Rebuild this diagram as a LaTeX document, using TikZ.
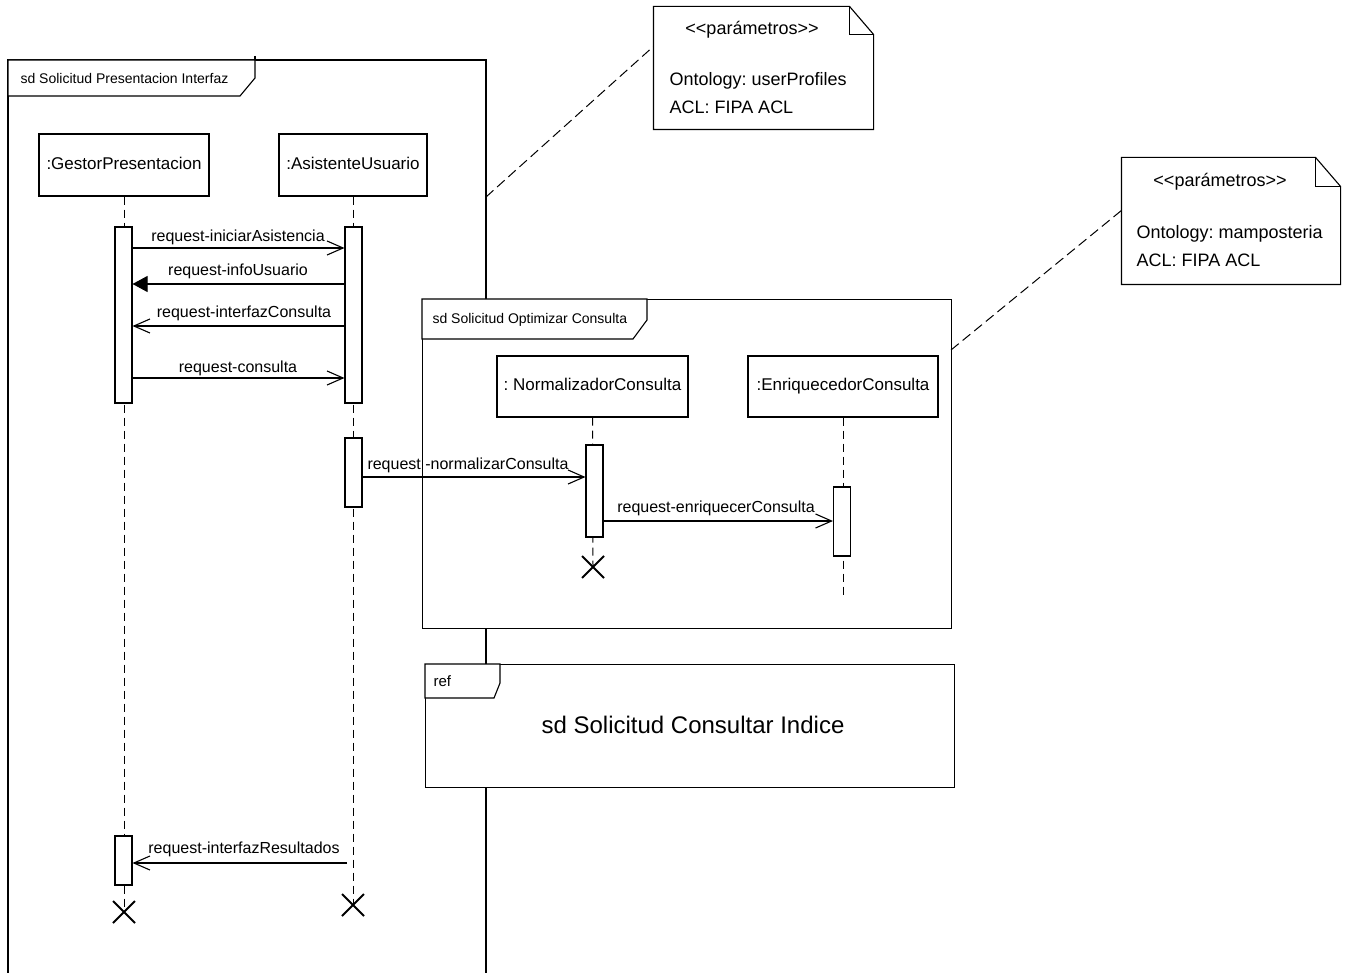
\documentclass[tikz,border=0pt]{standalone}
\usepackage{fontspec}
\setmainfont{Liberation Sans}
\usetikzlibrary{arrows.meta,shapes.misc}
\frenchspacing
\begin{document}
\begin{tikzpicture}[x=1pt,y=-1pt,line width=1.1pt,
  lifebox/.style={draw,fill=white,inner sep=0pt,text height=12pt,text depth=3.5pt,font=\fontsize{17}{20}\selectfont},
  actbar/.style={draw,fill=white,inner sep=0pt,minimum width=17pt},
  lifeline/.style={line width=1pt,dash pattern=on 8pt off 5pt},
  msgopen/.style={-{Straight Barb[length=16pt,width=14pt,line width=1.1pt]}},
  msgfill/.style={-{Triangle[length=15pt,width=16pt]}},
  msglbl/.style={inner sep=0pt,font=\fontsize{16}{18}\selectfont},
  framelbl/.style={inner sep=0pt,anchor=west,font=\fontsize{14}{16}\selectfont},
  notetxt/.style={inner sep=0pt,font=\fontsize{18}{21}\selectfont},
  destroy/.style={cross out,draw,minimum size=20pt,inner sep=0pt,line width=2pt},
  notelink/.style={line width=1pt,dash pattern=on 10pt off 5pt},
  notebox/.style={inner sep=0pt,draw=none}]
\useasboundingbox[fill=white] (0,0) rectangle (1348,973);

% outer frame
\coordinate (ofbl) at (8,973);
\coordinate (oftl) at (8,60);
\coordinate (oftr) at (486,60);
\coordinate (ofbr) at (486,973);
\draw (ofbl) -- (oftl) -- (oftr) -- (ofbr);
\draw[fill=white] (8,60) -- (255,60) -- (255,78) -- (240,96) -- (8,96) -- cycle;
\draw (255,56) -- (255,60);
\node[framelbl] (oflbl) at (20,78) {sd Solicitud Presentacion Interfaz};

% lifelines of outer diagram
\node[lifebox,minimum width=170pt,minimum height=62pt] (gp) at (124,165) {:GestorPresentacion};
\node[lifebox,minimum width=148pt,minimum height=62pt] (au) at (353,165) {:AsistenteUsuario};
\node[destroy] (x1) at (124,912) {};
\node[destroy] (x2) at (353,905) {};
\draw[lifeline] (gp.south) -- (x1.center);
\draw[lifeline] (au.south) -- (x2.center);

% notes links
\coordinate (ofnote) at (486,197);
\coordinate (n1link) at (655,45);
\draw[notelink] (ofnote) -- (n1link);

% inner frame
\node[draw,fill=white,minimum width=529pt,minimum height=329pt,inner sep=0pt,anchor=north west] (inf) at (422,299) {};
\draw[fill=white] (422,299) -- (647,299) -- (647,320) -- (633,339) -- (422,339) -- cycle;
\node[framelbl] (inflbl) at (432,320) {sd Solicitud Optimizar Consulta};

\node[lifebox,minimum width=191pt,minimum height=61pt] (nc) at (592.5,386.5) {: NormalizadorConsulta};
\node[lifebox,minimum width=190pt,minimum height=61pt] (ec) at (843,386.5) {:EnriquecedorConsulta};
\node[destroy] (x3) at (593,567) {};
\coordinate (ecend) at (843,595);
\draw[lifeline] (nc.south) -- (x3.center);
\draw[lifeline] (ec.south) -- (ecend);

% ref frame
\node[draw,fill=white,minimum width=529pt,minimum height=123pt,inner sep=0pt,anchor=north west] (ref) at (425,664) {};
\draw[fill=white] (425,664) -- (500,664) -- (500,683) -- (494,698) -- (425,698) -- cycle;
\node[framelbl,font=\fontsize{15}{17}\selectfont] (reflbl) at (433,681) {ref};
\node[inner sep=0pt,font=\fontsize{24}{28}\selectfont] (reftxt) at (693,725) {sd Solicitud Consultar Indice};

% activation bars
\node[actbar,minimum height=176pt] (gb1) at (123.5,315) {};
\node[actbar,minimum height=176pt] (ab1) at (353.5,315) {};
\node[actbar,minimum height=69pt] (ab2) at (353.5,472.5) {};
\node[actbar,minimum height=92pt] (nb) at (594.5,491) {};
\node[actbar,minimum height=69pt] (eb) at (842,521.5) {};
\node[actbar,minimum height=49pt] (gb2) at (123.5,860.5) {};

% messages
\draw[msgopen] (gb1.east |- 0,248) -- (ab1.west |- 0,248);
\node[msglbl] (l1) at (238,237) {request-iniciarAsistencia};
\draw[msgfill] (ab1.west |- 0,284) -- (gb1.east |- 0,284);
\node[msglbl] (l2) at (238,271) {request-infoUsuario};
\draw[msgopen] (ab1.west |- 0,326) -- (gb1.east |- 0,326);
\node[msglbl] (l3) at (244,313) {request-interfazConsulta};
\draw[msgopen] (gb1.east |- 0,378) -- (ab1.west |- 0,378);
\node[msglbl] (l4) at (238,368) {request-consulta};
\draw[msgopen] (ab2.east |- 0,477) -- (nb.west |- 0,477);
\node[msglbl] (l5) at (468,465) {request -normalizarConsulta};
\draw[msgopen] (nb.east |- 0,521) -- (eb.west |- 0,521);
\node[msglbl] (l6) at (716,508) {request-enriquecerConsulta};
\coordinate (m7s) at (347,863);
\draw[msgopen] (m7s) -- (gb2.east |- m7s);
\node[msglbl] (l7) at (244,849) {request-interfazResultados};

% note 1
\node[notebox,minimum width=219pt,minimum height=122pt] (n1) at (763.5,68) {};
\draw[fill=white] (n1.south west) -- (n1.north west) -- ([xshift=-24pt]n1.north east) -- ([yshift=-28pt]n1.north east) -- (n1.south east) -- cycle;
\draw ([xshift=-24pt]n1.north east) -- ([xshift=-24pt,yshift=-28pt]n1.north east) -- ([yshift=-28pt]n1.north east);
\node[notetxt] (n1a) at (752,30) {{<}{<}parámetros{>}{>}};
\node[notetxt,anchor=west] (n1b) at (669,81) {Ontology: userProfiles};
\node[notetxt,anchor=west] (n1c) at (669,107) {ACL: FIPA ACL};

% note 2
\coordinate (infnote) at (951,350);
\coordinate (n2link) at (1122,210);
\draw[notelink] (infnote) -- (n2link);
\node[notebox,minimum width=218pt,minimum height=126pt] (n2) at (1231,221) {};
\draw[fill=white] (n2.south west) -- (n2.north west) -- ([xshift=-25pt]n2.north east) -- ([yshift=-29pt]n2.north east) -- (n2.south east) -- cycle;
\draw ([xshift=-25pt]n2.north east) -- ([xshift=-25pt,yshift=-29pt]n2.north east) -- ([yshift=-29pt]n2.north east);
\node[notetxt] (n2a) at (1220,182) {{<}{<}parámetros{>}{>}};
\node[notetxt,anchor=west] (n2b) at (1136,234) {Ontology: mamposteria};
\node[notetxt,anchor=west] (n2c) at (1136,260) {ACL: FIPA ACL};
\end{tikzpicture}
\end{document}
